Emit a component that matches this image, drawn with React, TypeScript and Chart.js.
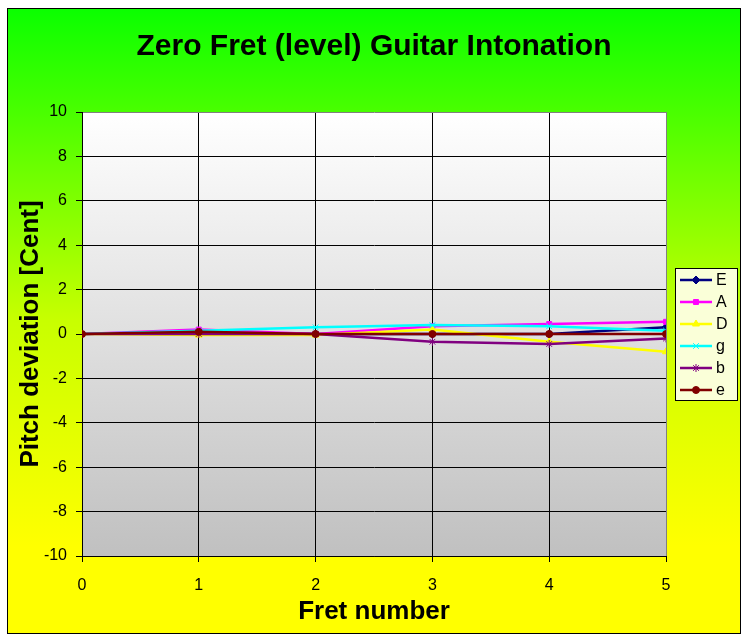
import { useEffect, useRef } from "react";
import { Chart, registerables } from "chart.js";
import { drawPoint } from "chart.js/helpers";

Chart.register(...registerables);

// fret positions and per-string deviations (cent)
const frets = [0, 1, 2, 3, 4, 5];
const stringNames = ["E", "A", "D", "g", "b", "e"];
const devE = [0, 0.1, 0, 0, 0, 0.3];
const devA = [0, 0.2, 0, 0.35, 0.45, 0.55];
const devD = [0, -0.05, -0.05, 0.2, -0.35, -0.8];
const devG = [0, 0.15, 0.3, 0.4, 0.35, 0.15];
const devB = [0, 0, 0, -0.35, -0.45, -0.2];
const devHighE = [0, 0.1, 0, 0, 0, 0];

const FONT = "'Liberation Sans', Arial, sans-serif";

const series = [
  { values: devE, color: "#000080", style: "rectRot", radius: 4 },
  { values: devA, color: "#ff00ff", style: "rect", radius: 3.5 },
  { values: devD, color: "#ffff00", style: "triangle", radius: 4 },
  { values: devG, color: "#00ffff", style: "crossRot", radius: 4 },
  { values: devB, color: "#800080", style: "star", radius: 4 },
  { values: devHighE, color: "#800000", style: "circle", radius: 3.5 },
];

// backgrounds: framed green->yellow chart area, white->grey plot area
const backgroundPlugin = {
  id: "backgrounds",
  beforeDraw(chart: any) {
    const { ctx, chartArea } = chart;
    ctx.save();
    ctx.fillStyle = "#ffffff";
    ctx.fillRect(0, 0, chart.width, chart.height);
    const g = ctx.createLinearGradient(0, 8, 0, 633);
    g.addColorStop(0, "#0aff00");
    g.addColorStop(0.5, "#c8ff00");
    g.addColorStop(0.86, "#ffff00");
    g.addColorStop(1, "#ffff00");
    ctx.fillStyle = g;
    ctx.fillRect(7.5, 8.5, 733, 625);
    ctx.strokeStyle = "#000";
    ctx.lineWidth = 1;
    ctx.strokeRect(7.5, 8.5, 733, 625);

    const p = ctx.createLinearGradient(0, chartArea.top, 0, chartArea.bottom);
    p.addColorStop(0, "#ffffff");
    p.addColorStop(1, "#c0c0c0");
    ctx.fillStyle = p;
    ctx.fillRect(
      chartArea.left,
      chartArea.top,
      chartArea.right - chartArea.left,
      chartArea.bottom - chartArea.top
    );
    ctx.restore();
  },
};

// Excel-like legend box with line + marker samples
const legendPlugin = {
  id: "boxLegend",
  afterDraw(chart: any) {
    const { ctx } = chart;
    const x0 = 675, y0 = 268, w = 62, h = 132;
    ctx.save();
    ctx.fillStyle = "#faffd8";
    ctx.fillRect(x0 + 0.5, y0 + 0.5, w, h);
    ctx.strokeStyle = "#000";
    ctx.lineWidth = 1;
    ctx.strokeRect(x0 + 0.5, y0 + 0.5, w, h);
    chart.data.datasets.forEach((ds: any, i: number) => {
      const y = y0 + 12 + i * 22;
      ctx.strokeStyle = ds.borderColor;
      ctx.lineWidth = 2.5;
      ctx.beginPath();
      ctx.moveTo(x0 + 5, y);
      ctx.lineTo(x0 + 37, y);
      ctx.stroke();
      ctx.fillStyle = ds.pointBackgroundColor;
      ctx.strokeStyle = ds.pointBorderColor;
      ctx.lineWidth = 1;
      drawPoint(
        ctx,
        { pointStyle: ds.pointStyle, radius: ds.pointRadius, borderWidth: 1, rotation: 0 },
        x0 + 21,
        y
      );
      ctx.fillStyle = "#000";
      ctx.font = `16px ${FONT}`;
      ctx.textBaseline = "middle";
      ctx.textAlign = "left";
      ctx.fillText(ds.label, x0 + 41, y + 1);
    });
    ctx.restore();
  },
};

export default function App() {
  const chartRef = useRef<HTMLCanvasElement | null>(null);

  useEffect(() => {
    if (!chartRef.current) return;

    const chart = new Chart(chartRef.current, {
      type: "line",
      data: {
        datasets: series.map((s, i) => ({
          label: stringNames[i],
          data: frets.map((f, j) => ({ x: f, y: s.values[j] })),
          borderColor: s.color,
          backgroundColor: s.color,
          pointBackgroundColor: s.color,
          pointBorderColor: s.color,
          pointStyle: s.style,
          pointRadius: s.radius,
          pointBorderWidth: 1,
          borderWidth: 2.5,
          tension: 0,
          fill: false,
          order: series.length - i,
        })),
      },
      options: {
        responsive: false,
        animation: false,
        devicePixelRatio: 1,
        layout: { padding: { left: 8, top: 10, right: 8, bottom: 8 } },
        plugins: {
          legend: { display: false },
          tooltip: { enabled: false },
          title: {
            display: true,
            text: "Zero Fret (level) Guitar Intonation",
            color: "#000",
            font: { family: FONT, size: 30, weight: "bold" },
            padding: { top: 19, bottom: 47 },
          },
        },
        scales: {
          x: {
            type: "linear",
            min: 0,
            max: 5,
            afterFit: (scale: any) => {
              scale.height = 76;
            },
            ticks: {
              stepSize: 1,
              color: "#000",
              padding: 14,
              font: { family: FONT, size: 16 },
            },
            grid: {
              color: (c: any) => (c.tick && c.tick.value === 5 ? "#808080" : "#000"),
              tickColor: "#000",
              tickLength: 6,
              lineWidth: 1,
            },
            border: { color: "#000", width: 1 },
            title: {
              display: true,
              text: "Fret number",
              color: "#000",
              font: { family: FONT, size: 26, weight: "bold" },
              padding: { top: 0, bottom: 5 },
            },
          },
          y: {
            min: -10,
            max: 10,
            afterFit: (scale: any) => {
              scale.width = 74;
            },
            ticks: {
              stepSize: 2,
              color: "#000",
              padding: 9,
              font: { family: FONT, size: 16 },
            },
            grid: {
              color: (c: any) => (c.tick && c.tick.value === 10 ? "#808080" : "#000"),
              tickColor: "#000",
              tickLength: 6,
              lineWidth: 1,
            },
            border: { color: "#000", width: 1 },
            title: {
              display: true,
              text: "Pitch deviation [Cent]",
              color: "#000",
              font: { family: FONT, size: 26, weight: "bold" },
              padding: { top: 7, bottom: 0 },
            },
          },
          // empty right-hand scale that reserves room for the legend box
          yRight: {
            position: "right",
            min: -10,
            max: 10,
            afterFit: (scale: any) => {
              scale.width = 74;
            },
            ticks: { display: false },
            grid: { display: false, drawTicks: false },
            border: { display: false },
          },
        },
      },
      plugins: [backgroundPlugin, legendPlugin],
    });

    return () => {
      chart.destroy();
    };
  }, []);

  return (
    <div
      style={{
        position: "fixed",
        left: 0,
        top: 0,
        width: 748,
        height: 640,
        background: "#fff",
      }}
    >
      <canvas ref={chartRef} width={748} height={640} style={{ display: "block" }} />
    </div>
  );
}
